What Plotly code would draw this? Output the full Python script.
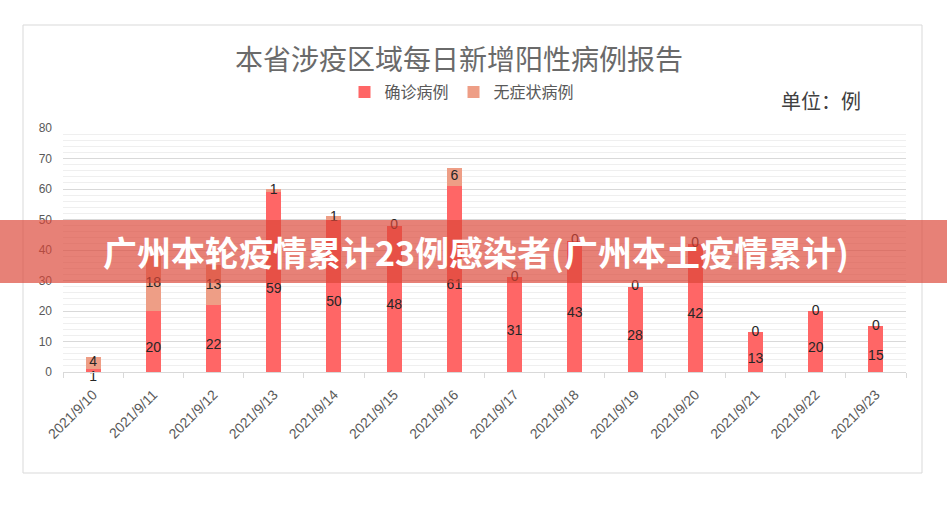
import plotly.graph_objects as go

dates = ["2021/9/10", "2021/9/11", "2021/9/12", "2021/9/13", "2021/9/14", "2021/9/15", "2021/9/16",
         "2021/9/17", "2021/9/18", "2021/9/19", "2021/9/20", "2021/9/21", "2021/9/22", "2021/9/23"]
confirmed = [1, 20, 22, 59, 50, 48, 61, 31, 43, 28, 42, 13, 20, 15]
asymptomatic = [4, 18, 13, 1, 1, 0, 6, 0, 0, 0, 0, 0, 0, 0]

W, H = 947, 505
C_CONF = "#FF6666"
C_ASYM = "#EE9E86"
CJK = "Noto Sans CJK SC"

def px(x):
    return x / W

def py(y):
    return (H - y) / H

fig = go.Figure()
fig.add_trace(go.Bar(x=dates, y=confirmed, name="确诊病例", marker=dict(color=C_CONF, line=dict(width=0))))
fig.add_trace(go.Bar(x=dates, y=asymptomatic, name="无症状病例", marker=dict(color=C_ASYM, line=dict(width=0))))

lab_font = dict(family="Liberation Sans, Arial", size=14, color="#262626")
fig.add_trace(go.Scatter(x=dates, y=[c / 2 for c in confirmed], mode="text",
                         text=[str(c) for c in confirmed], textposition="bottom center",
                         textfont=lab_font, showlegend=False, cliponaxis=False, hoverinfo="skip"))
fig.add_trace(go.Scatter(x=dates, y=[c + a / 2 for c, a in zip(confirmed, asymptomatic)], mode="text",
                         text=[str(a) for a in asymptomatic], textposition="middle center",
                         textfont=lab_font, showlegend=False, cliponaxis=False, hoverinfo="skip"))

fig.update_layout(
    width=W, height=H,
    margin=dict(l=0, r=0, t=0, b=0),
    paper_bgcolor="white", plot_bgcolor="white",
    barmode="stack", bargap=0.75,
    showlegend=True,
    legend=dict(orientation="h", x=px(462), xanchor="center", y=py(92), yanchor="middle",
                font=dict(family=CJK, size=16, color="#595959"), itemwidth=30,
                bgcolor="rgba(0,0,0,0)", traceorder="normal"),
    xaxis=dict(domain=[px(63), px(906)], type="category", range=[-0.5, len(dates) - 0.5],
               showgrid=False, automargin=False,
               showline=True, linecolor="#d9d9d9", linewidth=1,
               ticks="outside", tickson="boundaries", ticklen=5, tickcolor="#d9d9d9",
               ticklabelstandoff=8,
               tickangle=-45, tickfont=dict(family="Liberation Sans, Arial", size=14, color="#595959"),
               anchor="y"),
    yaxis=dict(domain=[py(372), py(128)], range=[0, 80], dtick=10, showgrid=True, gridcolor="#d9d9d9",
               gridwidth=1, zeroline=False, showline=False, ticks="", automargin=False,
               ticklabelstandoff=10,
               tickfont=dict(family="Liberation Sans, Arial", size=12, color="#595959"),
               minor=dict(dtick=2, showgrid=True, gridcolor="#efefef", gridwidth=1),
               anchor="x"),
)

shapes = [
    dict(type="rect", xref="paper", yref="paper", x0=px(23), x1=px(922), y0=py(473), y1=py(25),
         line=dict(color="#d9d9d9", width=1), fillcolor="rgba(0,0,0,0)", layer="below"),
    dict(type="rect", xref="paper", yref="paper", x0=0, x1=1, y0=py(283), y1=py(220),
         line=dict(width=0), fillcolor="rgba(219,69,55,0.68)", layer="above"),
]
fig.update_layout(shapes=shapes)

annotations = [
    dict(text="本省涉疫区域每日新增阳性病例报告", xref="paper", yref="paper", x=px(459), y=py(58),
         xanchor="center", yanchor="middle", showarrow=False,
         font=dict(family=CJK, size=28, color="#6a6a6a")),
    dict(text="单位：例", xref="paper", yref="paper", x=px(821), y=py(101),
         xanchor="center", yanchor="middle", showarrow=False,
         font=dict(family=CJK, size=20, color="#404040")),
    dict(text="<b>广州本轮疫情累计23例感染者(广州本土疫情累计)</b>", xref="paper", yref="paper",
         x=px(476), y=py(251), xanchor="center", yanchor="middle", showarrow=False,
         font=dict(family=CJK, size=34, color="white")),
]
fig.update_layout(annotations=annotations)

fig.write_html("out.html")
